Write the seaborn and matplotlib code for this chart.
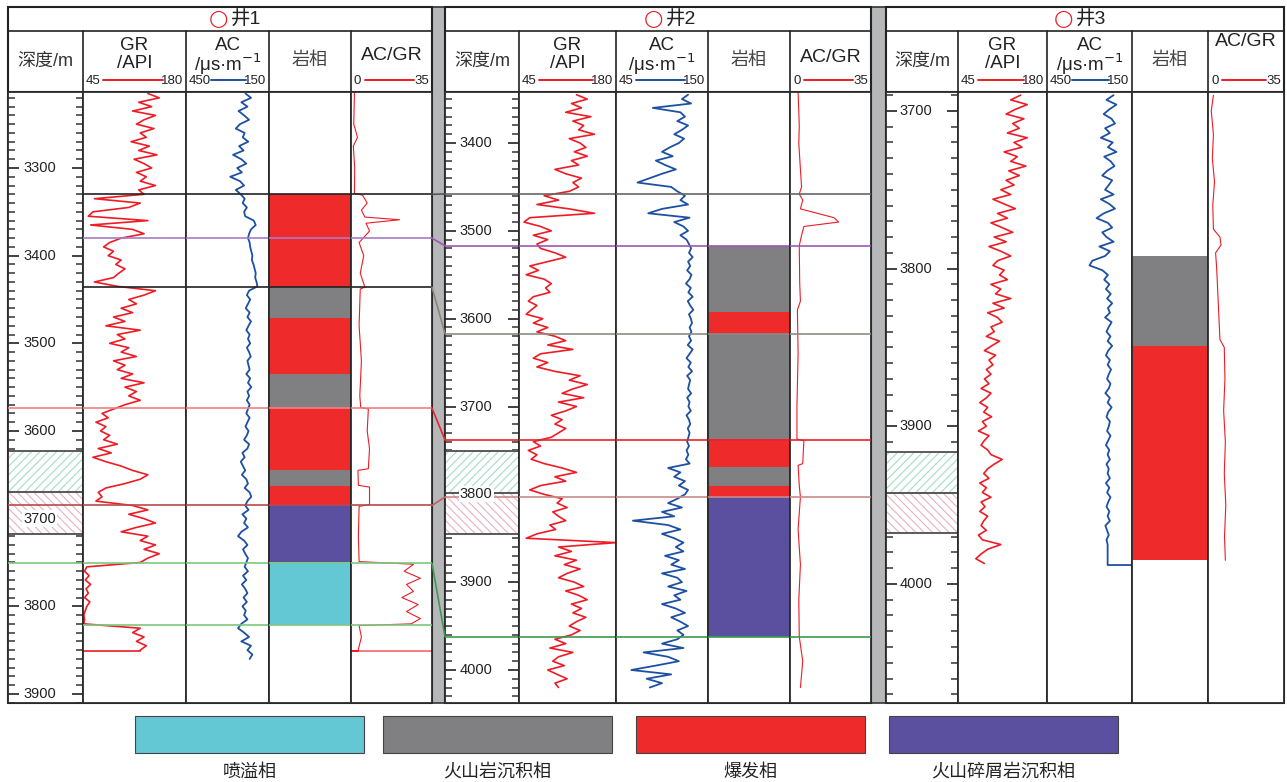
import numpy as np
import matplotlib
matplotlib.use('Agg')
import matplotlib.pyplot as plt
import seaborn as sns
from matplotlib.patches import Rectangle
from matplotlib.lines import Line2D

sns.set_theme(style='white')
plt.rcParams['font.family'] = ['Liberation Sans', 'Noto Sans CJK SC', 'DejaVu Sans']
plt.rcParams['hatch.linewidth'] = 0.8

# ---------------- data ----------------
WELLS = ['井1', '井2', '井3']
FACIES = ['喷溢相', '火山岩沉积相', '爆发相', '火山碎屑岩沉积相']
FACIES_COLORS = ['#63C8D3', '#808083', '#EE2A2B', '#5B4FA0']

# Well 1 (sampled every 5 m)
GR1_TOP, GR1_STEP = 3215, 5
GR1 = [130, 145, 118, 135, 110, 140, 125, 115, 138, 120, 128, 108, 132, 118, 142, 112, 125, 135, 115, 128, 120, 140, 118, 125,
       60, 120, 105, 58, 52, 130, 55, 110, 125, 95, 80, 72, 85, 78, 95, 88, 100, 92, 85, 60, 90,
       140, 125, 105, 115, 95, 110, 85, 100, 75, 120, 90, 100, 80, 105, 95, 115, 85, 100, 90, 110, 95, 125, 100, 115, 105, 120, 100,
       85, 70, 78, 62, 75, 68, 80, 72, 90, 65, 82, 58, 75, 95, 110, 130, 120, 100, 75, 65, 70, 62, 110, 130, 105, 125, 140, 115, 95, 130,
       120, 140, 125, 145, 130, 120,
       50, 47, 53, 48, 55, 49, 52, 47, 54, 50, 48, 46, 47, 46,
       120, 110, 125, 115, 128, 120]
GR1_TAIL = (3851, 45)
AC1_TOP, AC1_STEP = 3215, 5
AC1 = [235, 215, 250, 228, 260, 240, 222, 255, 270, 238, 245, 225, 258, 242, 280, 250, 232, 265, 248, 290, 255, 240, 270, 252,
       238, 245, 230, 240, 236, 205, 198, 215, 222, 226, 220, 218, 214, 210, 212, 206, 202, 198, 200, 195, 192,
       222, 230, 218, 226, 234, 220, 228, 215, 224, 232, 220, 226, 218, 230, 222, 216, 228, 224, 220, 232, 218, 226, 214, 228, 222, 230, 220,
       226, 232, 220, 228, 235, 224, 230, 240, 222, 228, 246, 238, 252, 244, 236, 248, 232, 226, 238, 220, 214, 228, 236, 224, 246, 232,
       240, 226, 250, 262, 240, 228, 244, 236, 226, 232,
       238, 226, 244, 232, 248, 236, 228, 242, 230, 246, 234, 240, 228, 250,
       262, 240, 222, 250, 215, 228, 210, 220]
ACGR1_DEPTH = [3213, 3250, 3265, 3275, 3300, 3329, 3331, 3340, 3348, 3356, 3359, 3363, 3372, 3385, 3400, 3420, 3436, 3438,
               3480, 3520, 3560, 3573, 3575, 3600, 3620, 3643, 3645, 3662, 3664, 3684, 3686, 3720, 3749, 3752, 3760, 3768,
               3775, 3783, 3790, 3798, 3806, 3814, 3820, 3822, 3835, 3851, 3851, 3851]
ACGR1 = [1.5, 1.2, 2.8, 1.0, 1.6, 1.5, 5.0, 7.0, 4.5, 6.0, 21, 6.5, 8.0, 3.5, 5.5, 4.0, 6.0, 4.0,
         3.5, 4.5, 3.8, 4.2, 7.5, 7.0, 8.0, 7.5, 3.0, 3.2, 8.0, 8.0, 3.5, 3.2, 3.5, 27, 23, 30,
         24, 27, 22, 29, 24, 30, 26, 3.5, 4.5, 3.0, 0, 35]
W1_FACIES_TOP = [3330, 3436, 3471, 3535, 3574, 3644, 3663, 3685, 3750]
W1_FACIES_BOT = [3436, 3471, 3535, 3574, 3644, 3663, 3685, 3750, 3821]
W1_FACIES = [2, 1, 2, 1, 2, 1, 2, 3, 0]
W1_BOUNDS = [3330, 3380, 3436, 3574, 3685, 3751, 3821]
W1_BOUND_COLORS = ['#222222', '#A77BC4', '#222222', '#F08080', '#B84A4A', '#7CC87C', '#7CC87C']
W1_BOUND_START = [1, 1, 1, 0, 0, 0, 1]
W1_HATCH = [(3623, 3670), (3670, 3718)]

# Well 2 (sampled every 5 m)
GR2_TOP, GR2_STEP = 3345, 5
GR2 = [125, 140, 118, 132, 110, 145, 120, 135, 128, 150, 115, 130, 138, 122, 140, 118, 128, 95, 110, 132, 120, 128, 115,
       80, 100, 70, 115, 150, 60, 52, 75, 90, 65, 85, 70,
       75, 95, 110, 85, 60, 72, 55, 80, 90, 82, 88, 65, 58, 70, 62, 55, 78, 65, 85, 70,
       95, 110, 85, 120, 75, 65, 85, 70, 95, 130, 115, 140, 120, 105, 135, 100, 125, 110, 90, 105, 95, 110, 100, 90,
       65, 75, 58, 70, 62, 80, 105, 125, 95, 110, 75, 60, 80,
       105, 98, 112, 92, 100, 110, 88, 96, 70, 55, 180,
       100, 118, 95, 125, 108, 130, 112, 100, 122, 135, 110, 128, 140, 118, 132, 120, 138, 125, 115, 130, 118,
       95, 110, 88, 120, 100, 92, 108, 85, 98, 112, 95, 100]
AC2_TOP, AC2_STEP = 3345, 5
AC2 = [215, 235, 205, 330, 240, 225, 250, 215, 235, 260, 228, 245, 275, 300, 265, 320, 290, 255, 300, 340, 380, 270, 250,
       225, 240, 215, 300, 345, 210, 260, 230, 215, 240, 220, 212,
       205, 212, 200, 215, 208, 218, 204, 210, 222, 206, 214, 200, 216, 208, 198, 212, 206, 202, 210, 204,
       212, 205, 216, 200, 210, 220, 206, 214, 202, 218, 208, 212, 215, 205, 218, 210, 214, 206, 220, 212, 208, 216, 210, 214,
       218, 212, 220, 214, 222, 210, 280, 240, 260, 225, 245, 215, 225,
       250, 280, 235, 300, 260, 395, 280, 240, 300, 260, 230,
       255, 230, 290, 245, 270, 225, 300, 250, 235, 280, 220, 260, 240, 300, 255, 225, 270, 240, 215, 250, 230,
       250, 300, 230, 360, 280, 245, 320, 400, 270, 350, 300, 340]
ACGR2_DEPTH = [3342, 3380, 3400, 3430, 3450, 3458, 3465, 3475, 3485, 3490, 3495, 3505, 3517, 3560, 3580, 3590, 3640,
               3700, 3737, 3739, 3765, 3767, 3790, 3803, 3840, 3880, 3920, 3962, 3990, 4020]
ACGR2 = [3.5, 4.0, 3.8, 4.5, 5.0, 4.0, 5.5, 4.5, 19, 21, 6, 5, 4.0, 4.2, 4.5, 3.2, 3.5,
         3.0, 3.0, 6.0, 5.5, 3.5, 4.0, 4.5, 3.5, 4.5, 3.8, 4.0, 5.5, 4.5]
W2_FACIES_TOP = [3517, 3592, 3617, 3737, 3769, 3790, 3803]
W2_FACIES_BOT = [3592, 3617, 3737, 3769, 3790, 3803, 3962]
W2_FACIES = [1, 2, 1, 2, 1, 2, 3]
W2_BOUNDS = [3458, 3517, 3617, 3738, 3803, 3962]
W2_BOUND_COLORS = ['#666666', '#9B59B6', '#8C8C84', '#E8232B', '#C98A8A', '#3E9A4E']
W2_BOUND_START = [0, 0, 0, 0, 0, 0]
W2_HATCH = [(3751, 3798), (3798, 3845)]

# Well 3 (sampled every 3 m)
GR3_TOP, GR3_STEP = 3690, 3
GR3 = [140, 125, 150, 132, 118, 145, 128, 138, 120, 150, 130, 142, 115, 135, 125, 148, 122, 138, 118, 130,
       110, 125, 98, 115, 132, 105, 120, 95, 112, 128, 100, 118, 92, 110, 125, 105, 98, 115, 108, 120,
       95, 110, 102, 125, 98, 115, 90, 105, 112, 95, 100, 88, 108, 96, 85, 102, 92, 98, 88, 95,
       85, 92, 80, 95, 88, 78, 90, 84, 96, 82, 88, 76, 92, 85, 80, 90, 95, 112, 100, 90,
       84, 92, 78, 88, 82, 95, 80, 86, 78, 90, 84, 80, 88, 76, 82, 110, 90, 80, 72, 85]
AC3_TOP, AC3_STEP = 3690, 3
AC3 = [215, 240, 205, 230, 250, 222, 210, 245, 228, 260, 218, 235, 205, 248, 225, 212, 238, 255, 220, 232,
       245, 215, 260, 230, 210, 250, 275, 235, 220, 255, 240, 215, 265, 228, 245, 290, 300, 255, 235, 248,
       230, 242, 225, 238, 220, 235, 228, 245, 222, 232, 240, 226, 236, 220, 234, 242, 228, 236, 224, 232,
       238, 226, 232, 244, 228, 236, 222, 234, 240, 228, 232, 238, 226, 234, 242, 230, 236, 228, 240, 232,
       236, 228, 242, 230, 238, 226, 234, 240, 230, 236, 228, 244, 238, 232, 240, 236]
AC3_TAIL = (3988, 150)
ACGR3_DEPTH = [3690, 3700, 3715, 3730, 3745, 3760, 3775, 3780, 3785, 3790, 3800, 3815, 3830, 3845, 3850, 3870, 3890,
               3910, 3930, 3950, 3970, 3985]
ACGR3 = [2.5, 1.5, 2.5, 2.0, 3.0, 2.2, 2.5, 5.5, 6.0, 3.5, 4.0, 4.5, 5.0, 5.5, 7.5, 7.8, 7.2, 8.0, 7.5, 8.2, 7.6, 8.0]
W3_FACIES_TOP = [3792, 3849]
W3_FACIES_BOT = [3849, 3985]
W3_FACIES = [1, 2]
W3_BOUNDS = []
W3_BOUND_COLORS = []
W3_BOUND_START = []
W3_HATCH = [(3916, 3942), (3942, 3968)]

# correlation lines between well 1 and well 2 (depth in well1, depth in well2)
CONNECT_W1 = [3330, 3380, 3436, 3574, 3685, 3751]
CONNECT_W2 = [3458, 3517, 3617, 3738, 3803, 3962]
CONNECT_COLORS = ['#555555', '#9B59B6', '#8C8478', '#E8232B', '#C06060', '#3E9A4E']

AC_LABEL_LEFT = ['450', '45', '450']

# ---------------- layout ----------------
W, H = 1287, 782
Y_TOP, Y_BOT = 92, 703
LAYOUT = [
    dict(cols=[8, 83, 186, 269, 351, 432], depth=(3213.3, 3910.3), acgr_y=55, circ_x=218),
    dict(cols=[445, 519, 616, 708, 790, 871], depth=(3341.9, 4037.6), acgr_y=57, circ_x=653),
    dict(cols=[886, 958, 1047, 1132, 1208, 1284], depth=(3688.0, 4075.5), acgr_y=42, circ_x=1063),
]
GR_C, AC_C, RED = '#EE1C25', '#1E50A2', '#EE1C25'

fig = plt.figure(figsize=(W / 100, H / 100), dpi=100)
bg = fig.add_axes([0, 0, 1, 1])
bg.set_xlim(0, W)
bg.set_ylim(H, 0)
bg.axis('off')


def pax(x0, y0, x1, y1):
    return fig.add_axes([x0 / W, 1 - y1 / H, (x1 - x0) / W, (y1 - y0) / H])


# gray separators
for sx0, sx1 in [(432, 445), (871, 886)]:
    bg.add_patch(Rectangle((sx0, 7), sx1 - sx0, 696, facecolor='#B6B7B9', edgecolor='#333333', lw=1.2))

well_data = [
    dict(gr=(GR1_TOP, GR1_STEP, GR1, GR1_TAIL), ac=(AC1_TOP, AC1_STEP, AC1, None), acgr=(ACGR1_DEPTH, ACGR1),
         ftop=W1_FACIES_TOP, fbot=W1_FACIES_BOT, fac=W1_FACIES, bounds=W1_BOUNDS, bcol=W1_BOUND_COLORS,
         bstart=W1_BOUND_START, hatch=W1_HATCH),
    dict(gr=(GR2_TOP, GR2_STEP, GR2, None), ac=(AC2_TOP, AC2_STEP, AC2, None), acgr=(ACGR2_DEPTH, ACGR2),
         ftop=W2_FACIES_TOP, fbot=W2_FACIES_BOT, fac=W2_FACIES, bounds=W2_BOUNDS, bcol=W2_BOUND_COLORS,
         bstart=W2_BOUND_START, hatch=W2_HATCH),
    dict(gr=(GR3_TOP, GR3_STEP, GR3, None), ac=(AC3_TOP, AC3_STEP, AC3, AC3_TAIL), acgr=(ACGR3_DEPTH, ACGR3),
         ftop=W3_FACIES_TOP, fbot=W3_FACIES_BOT, fac=W3_FACIES, bounds=W3_BOUNDS, bcol=W3_BOUND_COLORS,
         bstart=W3_BOUND_START, hatch=W3_HATCH),
]


def series(spec):
    top, step, vals, tail = spec
    d = list(top + step * np.arange(len(vals)))
    v = list(vals)
    if tail is not None:
        d += [tail[0], tail[0]]
        v += [vals[-1], tail[1]]
    return np.array(v, float), np.array(d, float)


all_axes = []
for wi, (lay, wd) in enumerate(zip(LAYOUT, well_data)):
    cols = lay['cols']
    dtop, dbot = lay['depth']
    axes = []
    for i in range(5):
        ax = pax(cols[i], Y_TOP, cols[i + 1], Y_BOT)
        ax.set_ylim(dbot, dtop)
        ax.set_facecolor('white')
        ax.set_xticks([])
        ax.set_yticks([])
        for s in ax.spines.values():
            s.set_color('#2b2b2b')
            s.set_linewidth(1.3)
        axes.append(ax)
    all_axes.append(axes)
    ax0, axg, axa, axf, axr = axes

    # depth column
    ax0.set_xlim(0, 1)
    for (h0, h1), hc, hp in zip(wd['hatch'], ['#A6DCC6', '#E6B3C3'], ['////', '\\\\\\\\']):
        ax0.bar(0.5, h1 - h0, width=1, bottom=h0, facecolor='white', edgecolor=hc, linewidth=0, hatch=hp, zorder=1)
        ax0.axhline(h0, color='#5a5a5a', lw=1.4, zorder=2)
        ax0.axhline(h1, color='#5a5a5a', lw=1.4, zorder=2)
    majors = np.arange(np.ceil(dtop / 100) * 100, dbot, 100)
    ax0.set_yticks(majors)
    ax0.set_yticks(np.arange(np.ceil(dtop / 10) * 10, dbot, 10), minor=True)
    ax0.tick_params(axis='y', which='both', left=True, right=True, direction='in', labelleft=False,
                    color='#333333')
    ax0.tick_params(axis='y', which='major', length=8, width=1.3)
    ax0.tick_params(axis='y', which='minor', length=5, width=1.1)
    for d in majors:
        ax0.text(0.42, d, f'{int(d)}', transform=ax0.get_yaxis_transform(), ha='center', va='center',
                 fontsize=10.5, color='#222222', zorder=6,
                 bbox=dict(facecolor='white', edgecolor='none', pad=0.8))

    # GR
    v, d = series(wd['gr'])
    sns.lineplot(x=v, y=d, sort=False, orient='y', estimator=None, ax=axg, color=GR_C, linewidth=1.2)
    axg.set_xlim(45, 180)
    # AC
    v, d = series(wd['ac'])
    sns.lineplot(x=v, y=d, sort=False, orient='y', estimator=None, ax=axa, color=AC_C, linewidth=1.3)
    axa.set_xlim(450, 150)
    # AC/GR
    dd, vv = wd['acgr']
    sns.lineplot(x=vv, y=dd, sort=False, orient='y', estimator=None, ax=axr, color=RED, linewidth=0.8)
    axr.set_xlim(0, 35)
    # facies
    axf.set_xlim(0, 1)
    for t, b, f in zip(wd['ftop'], wd['fbot'], wd['fac']):
        axf.bar(0.5, b - t, width=1, bottom=t, color=FACIES_COLORS[f], linewidth=0, zorder=1)

    for ax in axes:
        ax.set_ylim(dbot, dtop)
        ax.set_xlabel('')
        ax.set_ylabel('')
        ax.set_xticks([])
    axg.set_yticks([]); axa.set_yticks([]); axr.set_yticks([]); axf.set_yticks([])

    # boundaries
    for bd, bc, bs in zip(wd['bounds'], wd['bcol'], wd['bstart']):
        for ax in axes[bs:]:
            ax.axhline(bd, color=bc, lw=1.2, zorder=3)

    # header
    x0, x5 = cols[0], cols[-1]
    bg.add_patch(Rectangle((x0, 7), x5 - x0, 696, fill=False, edgecolor='#222222', lw=1.5))
    bg.plot([x0, x5], [31, 31], color='#222222', lw=1.2)
    bg.plot([x0, x5], [92, 92], color='#222222', lw=1.5)
    for cxx in cols[1:-1]:
        bg.plot([cxx, cxx], [31, 92], color='#222222', lw=1.2)
    bg.text(lay['circ_x'], 19.5, '○', color='#E8232B', fontsize=16, ha='center', va='center',
            family=['DejaVu Sans'])
    bg.text(lay['circ_x'] + 13, 20, WELLS[wi], color='#222222', fontsize=14, ha='left', va='center')
    c = [(cols[i] + cols[i + 1]) / 2 for i in range(5)]
    bg.text(c[0], 61, '深度/m', fontsize=13, ha='center', va='center', color='#333333')
    bg.text(c[1], 46, 'GR', fontsize=13.5, ha='center', va='center', color='#222222')
    bg.text(c[1], 64, '/API', fontsize=13.5, ha='center', va='center', color='#222222')
    bg.text(c[2], 45, 'AC', fontsize=13.5, ha='center', va='center', color='#222222')
    bg.text(c[2], 64, '/μs·m$^{-1}$', fontsize=13.5, ha='center', va='center', color='#222222')
    bg.text(c[3], 60, '岩相', fontsize=13, ha='center', va='center', color='#444444')
    bg.text(c[4], lay['acgr_y'], 'AC/GR', fontsize=14, ha='center', va='center', color='#222222')
    for ci, (lt, rt, lc) in zip([1, 2, 4], [('45', '180', GR_C), (AC_LABEL_LEFT[wi], '150', AC_C), ('0', '35', RED)]):
        a0, a1 = cols[ci], cols[ci + 1]
        bg.text(a0 + 3, 81, lt, fontsize=9.5, ha='left', va='center', color='#222222')
        bg.text(a1 - 3, 81, rt, fontsize=9.5, ha='right', va='center', color='#222222')
        bg.plot([a0 + 4 + 5.8 * len(lt) + 4, a1 - 3 - 5.8 * len(rt) - 3], [80, 80], color=lc, lw=1.4)

# correlation lines across the separator
axL = all_axes[0][-1]
axR = all_axes[1][0]
inv = fig.transFigure.inverted()
for d1, d2, cc in zip(CONNECT_W1, CONNECT_W2, CONNECT_COLORS):
    p1 = inv.transform(axL.get_yaxis_transform().transform((1, d1)))
    p2 = inv.transform(axR.get_yaxis_transform().transform((0, d2)))
    fig.add_artist(Line2D([p1[0], p2[0]], [p1[1], p2[1]], transform=fig.transFigure, color=cc, lw=1.2, zorder=5))

# legend
LEG_X = [135, 383, 636, 889]
LEG_W = 229
for lx, name, col in zip(LEG_X, FACIES, FACIES_COLORS):
    bg.add_patch(Rectangle((lx, 716), LEG_W, 37, facecolor=col, edgecolor='#444444', lw=0.8))
    bg.text(lx + LEG_W / 2, 772, name, fontsize=13, ha='center', va='center', color='#222222')

fig.savefig('out.png', dpi=100, facecolor='white')
